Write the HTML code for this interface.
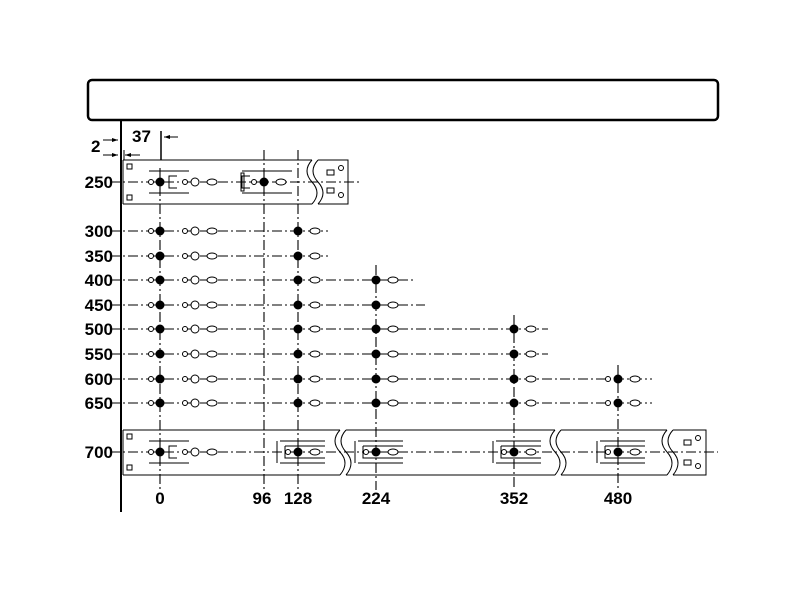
<!DOCTYPE html>
<html><head><style>body{margin:0;background:#fff}svg{display:block}text{font-family:"Liberation Sans",sans-serif;font-weight:bold;font-size:17px;fill:#000}</style></head>
<body>
<svg width="800" height="600" viewBox="0 0 800 600" xmlns="http://www.w3.org/2000/svg">
<rect x="88" y="80" width="630" height="40" rx="4" fill="none" stroke="#000" stroke-width="2.5"/>
<line x1="121" y1="120" x2="121" y2="512" stroke="#000" stroke-width="2"/>
<line x1="161" y1="131" x2="161" y2="160" stroke="#000" stroke-width="1.5"/>
<line x1="164" y1="137" x2="178" y2="137" stroke="#000"/><path d="M164 137l6-2v4z"/>
<line x1="103" y1="140" x2="118" y2="140" stroke="#000"/><path d="M118 140l-6-2v4z"/>
<line x1="103" y1="155" x2="118" y2="155" stroke="#000"/><path d="M118 155l-6-2v4z"/>
<line x1="125" y1="155" x2="140" y2="155" stroke="#000"/><path d="M125 155l6-2v4z"/>
<line x1="124" y1="150" x2="124" y2="160" stroke="#000"/>
<text x="132" y="142">37</text><text x="91" y="152">2</text>
<g stroke="#000" stroke-width="1.1" stroke-dasharray="10,3,2,3" fill="none">
<line x1="160" y1="168" x2="160" y2="490"/>
<line x1="264" y1="150" x2="264" y2="490"/>
<line x1="298" y1="150" x2="298" y2="490"/>
<line x1="376" y1="265" x2="376" y2="490"/>
<line x1="514" y1="315" x2="514" y2="490"/>
<line x1="618" y1="365" x2="618" y2="490"/>
<line x1="110" y1="182" x2="360" y2="182"/>
<line x1="110" y1="231" x2="328" y2="231"/>
<line x1="110" y1="256" x2="328" y2="256"/>
<line x1="110" y1="280" x2="414" y2="280"/>
<line x1="110" y1="305" x2="425" y2="305"/>
<line x1="110" y1="329" x2="548" y2="329"/>
<line x1="110" y1="354" x2="548" y2="354"/>
<line x1="110" y1="379" x2="652" y2="379"/>
<line x1="110" y1="403" x2="652" y2="403"/>
<line x1="110" y1="452" x2="718" y2="452"/>
</g>
<g text-anchor="end">
<text x="113" y="188">250</text><text x="113" y="237">300</text><text x="113" y="262">350</text><text x="113" y="286">400</text><text x="113" y="311">450</text><text x="113" y="335">500</text><text x="113" y="360">550</text><text x="113" y="385">600</text><text x="113" y="409">650</text><text x="113" y="458">700</text>
</g>
<g text-anchor="middle">
<text x="160" y="504">0</text><text x="262" y="504">96</text><text x="298" y="504">128</text><text x="376" y="504">224</text><text x="514" y="504">352</text><text x="618" y="504">480</text>
</g>
<defs>
<g id="c0"><circle cx="-9" cy="0" r="2.5" fill="#fff" stroke="#000"/><circle cx="0" cy="0" r="4.5"/><circle cx="25" cy="0" r="2.5" fill="#fff" stroke="#000"/><circle cx="35" cy="0" r="4" fill="#fff" stroke="#000"/><ellipse cx="52" cy="0" rx="5" ry="3" fill="#fff" stroke="#000"/></g>
<g id="cn"><circle cx="0" cy="0" r="4.5"/><ellipse cx="17" cy="0" rx="5" ry="3" fill="#fff" stroke="#000"/></g>
<g id="cs"><circle cx="-10" cy="0" r="2.5" fill="#fff" stroke="#000"/><circle cx="0" cy="0" r="4.5"/><ellipse cx="17" cy="0" rx="5" ry="3" fill="#fff" stroke="#000"/></g>
</defs>
<use href="#c0" x="160" y="231"/><use href="#c0" x="160" y="256"/><use href="#c0" x="160" y="280"/><use href="#c0" x="160" y="305"/><use href="#c0" x="160" y="329"/><use href="#c0" x="160" y="354"/><use href="#c0" x="160" y="379"/><use href="#c0" x="160" y="403"/>
<use href="#cn" x="298" y="231"/><use href="#cn" x="298" y="256"/><use href="#cn" x="298" y="280"/><use href="#cn" x="298" y="305"/><use href="#cn" x="298" y="329"/><use href="#cn" x="298" y="354"/><use href="#cn" x="298" y="379"/><use href="#cn" x="298" y="403"/>
<use href="#cn" x="376" y="280"/><use href="#cn" x="376" y="305"/><use href="#cn" x="376" y="329"/><use href="#cn" x="376" y="354"/><use href="#cn" x="376" y="379"/><use href="#cn" x="376" y="403"/>
<use href="#cn" x="514" y="329"/><use href="#cn" x="514" y="354"/><use href="#cn" x="514" y="379"/><use href="#cn" x="514" y="403"/>
<use href="#cs" x="618" y="379"/><use href="#cs" x="618" y="403"/>
<g fill="none" stroke="#000">
<path d="M123 160H312M123 204H312M123 160V204"/>
<path d="M312 160q-10 11 0 22q10 11 0 22M318 160q-10 11 0 22q10 11 0 22"/>
<path d="M318 160H348V204H318"/>
<rect x="127" y="164" width="5" height="5"/><rect x="127" y="195" width="5" height="5"/>
<rect x="327" y="170" width="7" height="5"/><rect x="327" y="188" width="7" height="5"/>
<circle cx="341" cy="168" r="2.5"/><circle cx="341" cy="195" r="2.5"/>
<path d="M149 171h40M149 193h40M177 176h-8v12h8M242 171h50M242 193h50M250 176h-8v12h8"/>
<rect x="241" y="173" width="3" height="18"/>
</g>
<use href="#c0" x="160" y="182"/>
<use href="#cn" x="264" y="182"/>
<circle cx="254" cy="182" r="2.5" fill="#fff" stroke="#000"/>
<g fill="none" stroke="#000">
<path d="M123 430H340M123 475H340M123 430V475"/>
<path d="M340 430q-10 11 0 22q10 11 0 23M346 430q-10 11 0 22q10 11 0 23"/>
<path d="M346 430H555M346 475H555"/>
<path d="M555 430q-10 11 0 22q10 11 0 23M561 430q-10 11 0 22q10 11 0 23"/>
<path d="M561 430H667M561 475H667"/>
<path d="M667 430q-10 11 0 22q10 11 0 23M673 430q-10 11 0 22q10 11 0 23"/>
<path d="M673 430H706V475H673"/>
<rect x="127" y="434" width="5" height="5"/><rect x="127" y="465" width="5" height="5"/>
<rect x="684" y="440" width="7" height="5"/><rect x="684" y="460" width="7" height="5"/>
<circle cx="698" cy="438" r="2.5"/><circle cx="698" cy="466" r="2.5"/>
<path d="M149 441h40M149 463h40M177 446h-8v12h8"/>
<path d="M280 441h45M280 463h45M277 441v22"/><path d="M285 446v12h40M285 446h40"/>
<path d="M358 441h45M358 463h45M355 441v22"/><path d="M363 446v12h40M363 446h40"/>
<path d="M496 441h45M496 463h45M493 441v22"/><path d="M501 446v12h40M501 446h40"/>
<path d="M600 441h45M600 463h45M597 441v22"/><path d="M605 446v12h40M605 446h40"/>
</g>
<use href="#c0" x="160" y="452"/>
<use href="#cs" x="298" y="452"/><use href="#cs" x="376" y="452"/><use href="#cs" x="514" y="452"/><use href="#cs" x="618" y="452"/>
</svg>
</body></html>
